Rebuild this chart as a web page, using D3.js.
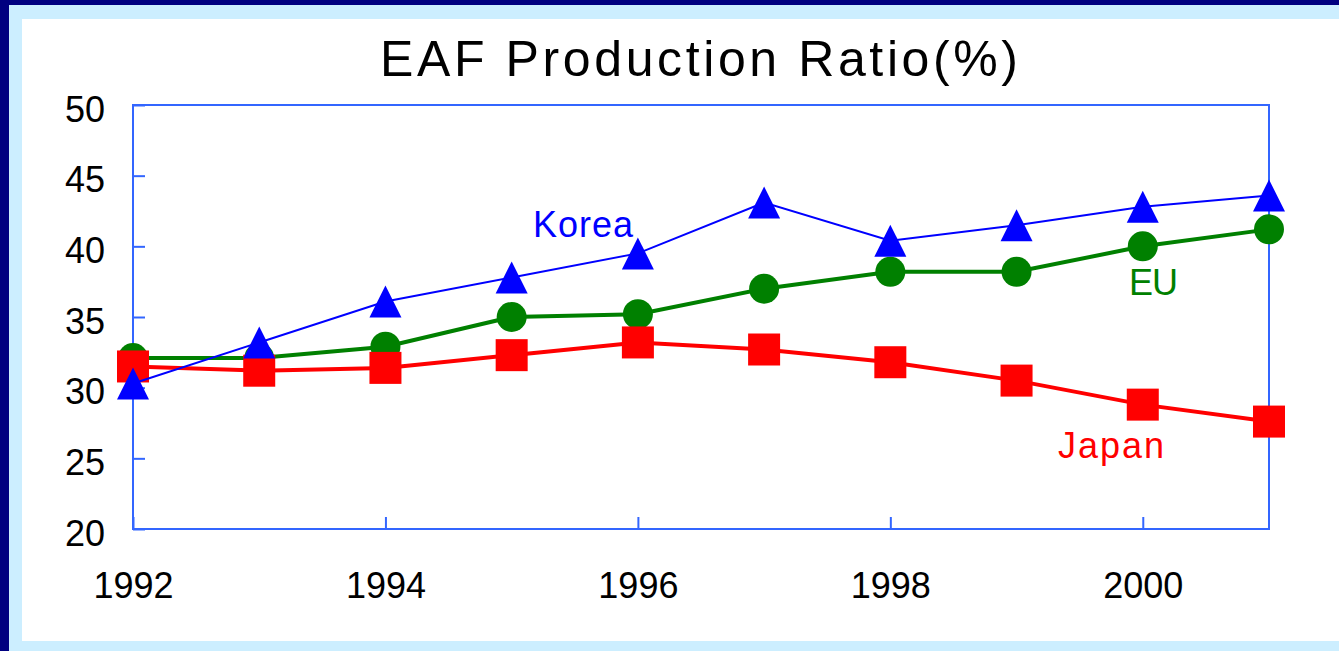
<!DOCTYPE html>
<html>
<head>
<meta charset="utf-8">
<script src="https://cdn.jsdelivr.net/npm/d3@7"></script>
<style>
  body { margin: 0; overflow: hidden; }
  svg { display: block; font-family: "Liberation Sans", Arial, sans-serif; }
</style>
</head>
<body>
<div id="chart"></div>
<script>
// dados
const years = [1992, 1993, 1994, 1995, 1996, 1997, 1998, 1999, 2000, 2001];
const korea = [30.3, 33.2, 36.1, 37.8, 39.5, 43.1, 40.4, 41.5, 42.8, 43.6];
const eu    = [32.1, 32.1, 32.9, 35.0, 35.2, 37.0, 38.2, 38.2, 40.0, 41.2];
const japan = [31.5, 31.2, 31.4, 32.3, 33.2, 32.7, 31.8, 30.5, 28.8, 27.6];
const xTicks = [1992, 1994, 1996, 1998, 2000];
const yTicks = [20, 25, 30, 35, 40, 45, 50];

const width = 1339, height = 651;
const box = { left: 133, top: 105, right: 1269, bottom: 529 };

const svg = d3.select("#chart").append("svg")
  .attr("width", width)
  .attr("height", height);

// moldura azul escura + faixa azul clara + fundo branco
svg.append("rect").attr("width", width).attr("height", height).attr("fill", "#000080");
svg.append("rect").attr("x", 9).attr("y", 5).attr("width", width - 9).attr("height", height - 5).attr("fill", "#cceeff");
svg.append("rect").attr("x", 22).attr("y", 19).attr("width", width - 22).attr("height", 641 - 19).attr("fill", "#ffffff");

const x = d3.scaleLinear().domain([1992, 2001]).range([box.left, box.right]);
const y = d3.scaleLinear().domain([20, 50]).range([box.bottom, box.top]);

// título
svg.append("text")
  .attr("x", 699).attr("y", 76)
  .attr("text-anchor", "middle")
  .attr("font-size", 50)
  .attr("textLength", 638)
  .attr("lengthAdjust", "spacing")
  .attr("fill", "#000")
  .text("EAF Production Ratio(%)");

const axisColor = "#3366ff";

// eixo x
const gx = svg.append("g")
  .attr("transform", `translate(0,${box.bottom})`)
  .call(d3.axisBottom(x).tickValues(xTicks).tickFormat(d3.format("d")).tickSize(-12).tickPadding(43));
gx.select(".domain").remove();
gx.selectAll(".tick line").attr("stroke", axisColor).attr("stroke-width", 2);
gx.selectAll(".tick text").attr("font-size", 36).attr("fill", "#000").attr("font-family", "Liberation Sans, Arial, sans-serif");

// eixo y
const gy = svg.append("g")
  .attr("transform", `translate(${box.left},0)`)
  .call(d3.axisLeft(y).tickValues(yTicks).tickSize(-12).tickPadding(28));
gy.select(".domain").remove();
gy.selectAll(".tick line").attr("stroke", axisColor).attr("stroke-width", 2);
gy.selectAll(".tick text").attr("font-size", 36).attr("fill", "#000").attr("dy", "0.45em").attr("font-family", "Liberation Sans, Arial, sans-serif");

// caixa do gráfico
svg.append("rect")
  .attr("x", box.left).attr("y", box.top)
  .attr("width", box.right - box.left).attr("height", box.bottom - box.top)
  .attr("fill", "none").attr("stroke", axisColor).attr("stroke-width", 2);

const line = d3.line().x(d => x(d[0])).y(d => y(d[1]));

function serie(valores, cor, espessura, marcador) {
  const pts = years.map((ano, i) => [ano, valores[i]]);
  const g = svg.append("g");
  g.append("path").datum(pts)
    .attr("d", line)
    .attr("fill", "none")
    .attr("stroke", cor)
    .attr("stroke-width", espessura);
  pts.forEach(p => {
    const cx = x(p[0]), cy = y(p[1]);
    if (marcador === "circle") {
      g.append("circle").attr("cx", cx).attr("cy", cy).attr("r", 15).attr("fill", cor);
    } else if (marcador === "square") {
      g.append("rect").attr("x", cx - 16).attr("y", cy - 16).attr("width", 32).attr("height", 32).attr("fill", cor);
    } else {
      g.append("path")
        .attr("d", `M${cx},${cy - 16}L${cx + 16},${cy + 16}L${cx - 16},${cy + 16}Z`)
        .attr("fill", cor);
    }
  });
}

serie(eu, "#008000", 4, "circle");
serie(japan, "#ff0000", 4, "square");
serie(korea, "#0000ff", 2, "triangle");

// rótulos das séries
const rotulos = [
  { texto: "Korea", x: 533, y: 237, len: 100, cor: "#0000ff" },
  { texto: "EU", x: 1129, y: 295, len: 49, cor: "#008000" },
  { texto: "Japan", x: 1058, y: 458, len: 106, cor: "#ff0000" }
];
svg.selectAll(".rotulo").data(rotulos).enter().append("text")
  .attr("class", "rotulo")
  .attr("x", d => d.x).attr("y", d => d.y)
  .attr("font-size", 36)
  .attr("textLength", d => d.len)
  .attr("lengthAdjust", "spacing")
  .attr("fill", d => d.cor)
  .text(d => d.texto);
</script>
</body>
</html>
